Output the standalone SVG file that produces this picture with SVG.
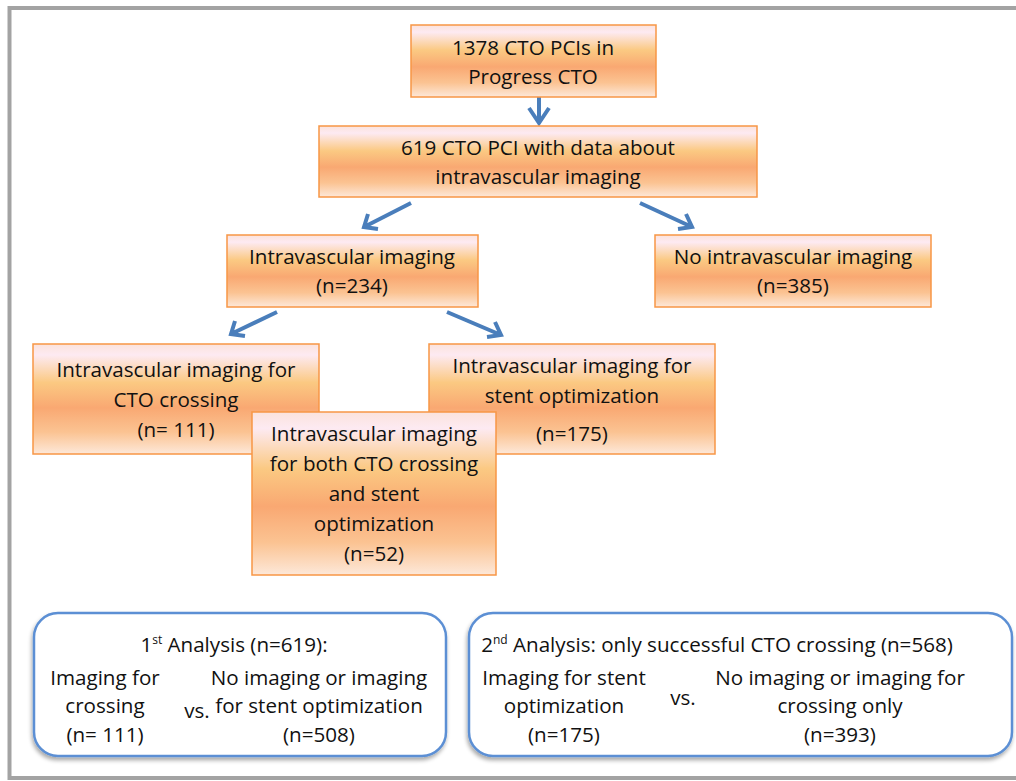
<svg xmlns="http://www.w3.org/2000/svg" width="1016" height="781" viewBox="0 0 1016 781">
<defs>
<linearGradient id="peach" x1="0" y1="0" x2="0" y2="1">
<stop offset="0" stop-color="#fbe3dc"/>
<stop offset="0.1" stop-color="#fdeaf2"/>
<stop offset="0.35" stop-color="#fbc982"/>
<stop offset="0.58" stop-color="#f9a872"/>
<stop offset="0.8" stop-color="#fbc392"/>
<stop offset="1" stop-color="#fde8d9"/>
</linearGradient>
<filter id="sh" x="-5%" y="-5%" width="110%" height="115%">
<feGaussianBlur in="SourceAlpha" stdDeviation="2"/>
<feOffset dx="-1" dy="3" result="b"/>
<feComponentTransfer><feFuncA type="linear" slope="0.35"/></feComponentTransfer>
<feMerge><feMergeNode/><feMergeNode in="SourceGraphic"/></feMerge>
</filter>
</defs>
<style>
.box{fill:url(#peach);stroke:#f79646;stroke-width:1.5}
.ana{fill:#ffffff;stroke:#5b8fd4;stroke-width:2.5}
.t{font-family:"Open Sans","Noto Sans","DejaVu Sans",sans-serif;font-size:20.6px;fill:#111111;text-anchor:middle}
.sup{font-size:12px}
.arr{fill:none;stroke:#4a7ebb;stroke-width:4;stroke-linecap:butt;stroke-linejoin:miter}
</style>
<rect x="0" y="0" width="1016" height="781" fill="#ffffff"/>
<rect x="9.5" y="8" width="1020" height="770" fill="none" stroke="#a3a3a3" stroke-width="4"/>

<g id="connectors">
<path class="arr" d="M539,97 V123 M529,108 L539,123 L549,108"/>
<path class="arr" d="M411,203 L364,227 M368,214 L364,227 L378,229"/>
<path class="arr" d="M640,203 L692,227 M678,229 L692,227 L686,214"/>
<path class="arr" d="M277,312 L231,334 M235,321 L231,334 L245,336"/>
<path class="arr" d="M447,312 L501,335 M487,337 L501,335 L495,322"/>
</g>

<g id="n1">
<rect class="box" x="411" y="25" width="245" height="72"/>
<text class="t" x="533" y="55">1378 CTO PCIs in</text>
<text class="t" x="533" y="84">Progress CTO</text>
</g>
<g id="n2">
<rect class="box" x="319" y="126" width="438" height="71"/>
<text class="t" x="538" y="155">619 CTO PCI with data about</text>
<text class="t" x="538" y="184">intravascular imaging</text>
</g>
<g id="n3">
<rect class="box" x="227" y="235" width="251" height="72"/>
<text class="t" x="352" y="264">Intravascular imaging</text>
<text class="t" x="352" y="293">(n=234)</text>
</g>
<g id="n4">
<rect class="box" x="655" y="235" width="276" height="72"/>
<text class="t" x="793" y="264">No intravascular imaging</text>
<text class="t" x="793" y="293">(n=385)</text>
</g>
<g id="n5">
<rect class="box" x="33" y="344" width="286" height="110"/>
<text class="t" x="176" y="377">Intravascular imaging for</text>
<text class="t" x="176" y="407">CTO crossing</text>
<text class="t" x="176" y="437">(n= 111)</text>
</g>
<g id="n6">
<rect class="box" x="429" y="344" width="286" height="110"/>
<text class="t" x="572" y="373">Intravascular imaging for</text>
<text class="t" x="572" y="403">stent optimization</text>
<text class="t" x="572" y="441">(n=175)</text>
</g>
<g id="n7">
<rect class="box" x="252" y="412" width="244" height="163"/>
<text class="t" x="374" y="441">Intravascular imaging</text>
<text class="t" x="374" y="471">for both CTO crossing</text>
<text class="t" x="374" y="501">and stent</text>
<text class="t" x="374" y="531">optimization</text>
<text class="t" x="374" y="561">(n=52)</text>
</g>

<g id="a1">
<rect class="ana" x="34" y="613" width="412" height="143" rx="24" filter="url(#sh)"/>
<text class="t" x="234" y="652">1<tspan class="sup" dy="-8">st</tspan><tspan dy="8"> Analysis (n=619):</tspan></text>
<text class="t" x="105" y="685">Imaging for</text>
<text class="t" x="105" y="713">crossing</text>
<text class="t" x="105" y="742">(n= 111)</text>
<text class="t" x="197" y="718">vs.</text>
<text class="t" x="319" y="685">No imaging or imaging</text>
<text class="t" x="319" y="713">for stent optimization</text>
<text class="t" x="319" y="742">(n=508)</text>
</g>
<g id="a2">
<rect class="ana" x="469" y="613" width="543" height="143" rx="24" filter="url(#sh)"/>
<text class="t" x="717" y="652">2<tspan class="sup" dy="-8">nd</tspan><tspan dy="8"> Analysis: only successful CTO crossing (n=568)</tspan></text>
<text class="t" x="564" y="685">Imaging for stent</text>
<text class="t" x="564" y="713">optimization</text>
<text class="t" x="564" y="742">(n=175)</text>
<text class="t" x="683" y="705">vs.</text>
<text class="t" x="840" y="685">No imaging or imaging for</text>
<text class="t" x="840" y="713">crossing only</text>
<text class="t" x="840" y="742">(n=393)</text>
</g>
</svg>
